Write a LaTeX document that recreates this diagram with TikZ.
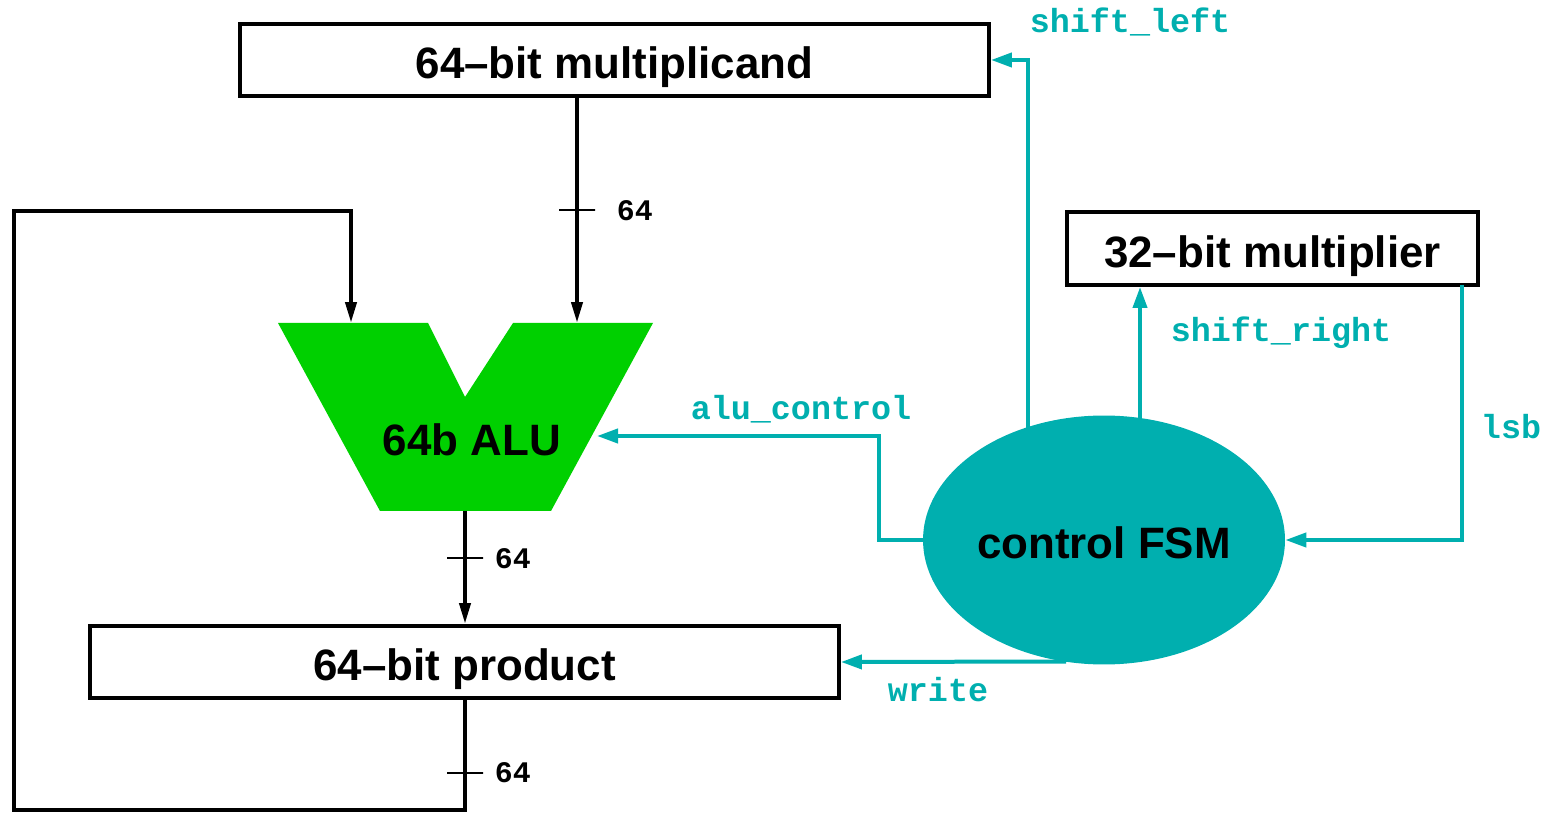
\documentclass[tikz,border=0pt]{standalone}
\usepackage{fontspec}
\setmainfont{Liberation Sans}
\newfontfamily\sigfont{Liberation Mono}
\usepackage{tikz}
\usetikzlibrary{shapes.geometric, arrows.meta, positioning, calc}
\definecolor{fsmteal}{RGB}{0,175,175}
\definecolor{alugreen}{RGB}{0,208,0}
\tikzstyle{reg} = [rectangle,
minimum width=14.98cm,
minimum height=1.44cm,
inner sep=0pt,
text height=0.76cm, text depth=0pt,
line width=0.08cm,
draw=black, fill=white,
font=\fontsize{25}{30}\selectfont\bfseries]
\tikzstyle{fsm} = [ellipse,
minimum width=7.24cm,
minimum height=4.98cm,
inner sep=0pt,
text height=0.76cm, text depth=0pt,
fill=fsmteal,
font=\fontsize{25}{30}\selectfont\bfseries]
\tikzstyle{bus} = [line width=0.08cm, -{Triangle[length=0.42cm, width=0.22cm]}]
\tikzstyle{ctrl} = [line width=0.08cm, fsmteal, -{Triangle[length=0.42cm, width=0.28cm]}]
\tikzstyle{tick} = [rectangle, draw=black, line width=0.04cm,
minimum width=0.72cm, minimum height=0pt, inner sep=0pt]
\tikzstyle{buswidth} = [font=\sigfont\fontsize{17}{20}\selectfont\bfseries,
text=black, label distance=0.06cm]
\tikzstyle{sig} = [font=\sigfont\fontsize{19}{22}\selectfont\bfseries, text=fsmteal]

\begin{document}
\begin{tikzpicture}[x=0.02cm, y=-0.02cm]
            \useasboundingbox (0,0) rectangle (1547,813);

            % datapath
            \node (mcand) [reg] at (614.5,60) {64–bit multiplicand};
            \node (mplier) [reg, minimum width=8.22cm, minimum height=1.46cm] at (1272.5,248.5) {32–bit multiplier};
            \node (product) [reg] at (464.5,662) {64–bit product};

            \fill [alugreen] (278,323) -- (428,323) -- (465,397) -- (513,323) -- (653,323) -- (551,511) -- (380,511) -- cycle;
            \node (alu) at (472,440) [font=\fontsize{25}{30}\selectfont\bfseries] {64b ALU};
            \coordinate (alua) at (351,323);
            \coordinate (alub) at (577,323);
            \coordinate (aluop) at (597,436);
            \coordinate (aluout) at (465,511);

            \draw [bus] (mcand.south -| alub) -- node[tick, label={[buswidth, label distance=0.26cm]right:64}] {} (alub);
            \draw [bus] (aluout) -- node[tick, pos=0.42, label={[buswidth]right:64}] {} (product.north -| aluout);
            \draw [bus] (product.south -| aluout) -- node[tick, pos=0.66, label={[buswidth]right:64}] {} ++(0,110) -| (14,211) -| (alua);

            % control
            \node (fsm) [fsm] at (1104,540) {control FSM};
            \coordinate (fsmsl) at (1028,440);
            \coordinate (fsmsr) at (1140,430);
            \coordinate (fsmwr) at (1066,661.5);
            \coordinate (mplsb) at (1462,285);

            \draw [ctrl] (fsmsl) |- (mcand.east);
            \draw [ctrl] (fsmsr) -- (fsmsr |- mplier.south);
            \draw [ctrl] (mplsb) |- (fsm.east);
            \draw [ctrl] (fsm.west) -- ++(-44,0) |- (aluop);
            \draw [ctrl] (fsmwr) -- (product.east);

            \node (shl) [sig] at (1130,22) {shift\_left};
            \node (shr) [sig] at (1281,333) {shift\_right};
            \node (lsb) [sig] at (1511,427) {lsb};
            \node (aluc) [sig] at (801,409) {alu\_control};
            \node (wr) [sig] at (938,690) {write};
        \end{tikzpicture}
\end{document}
